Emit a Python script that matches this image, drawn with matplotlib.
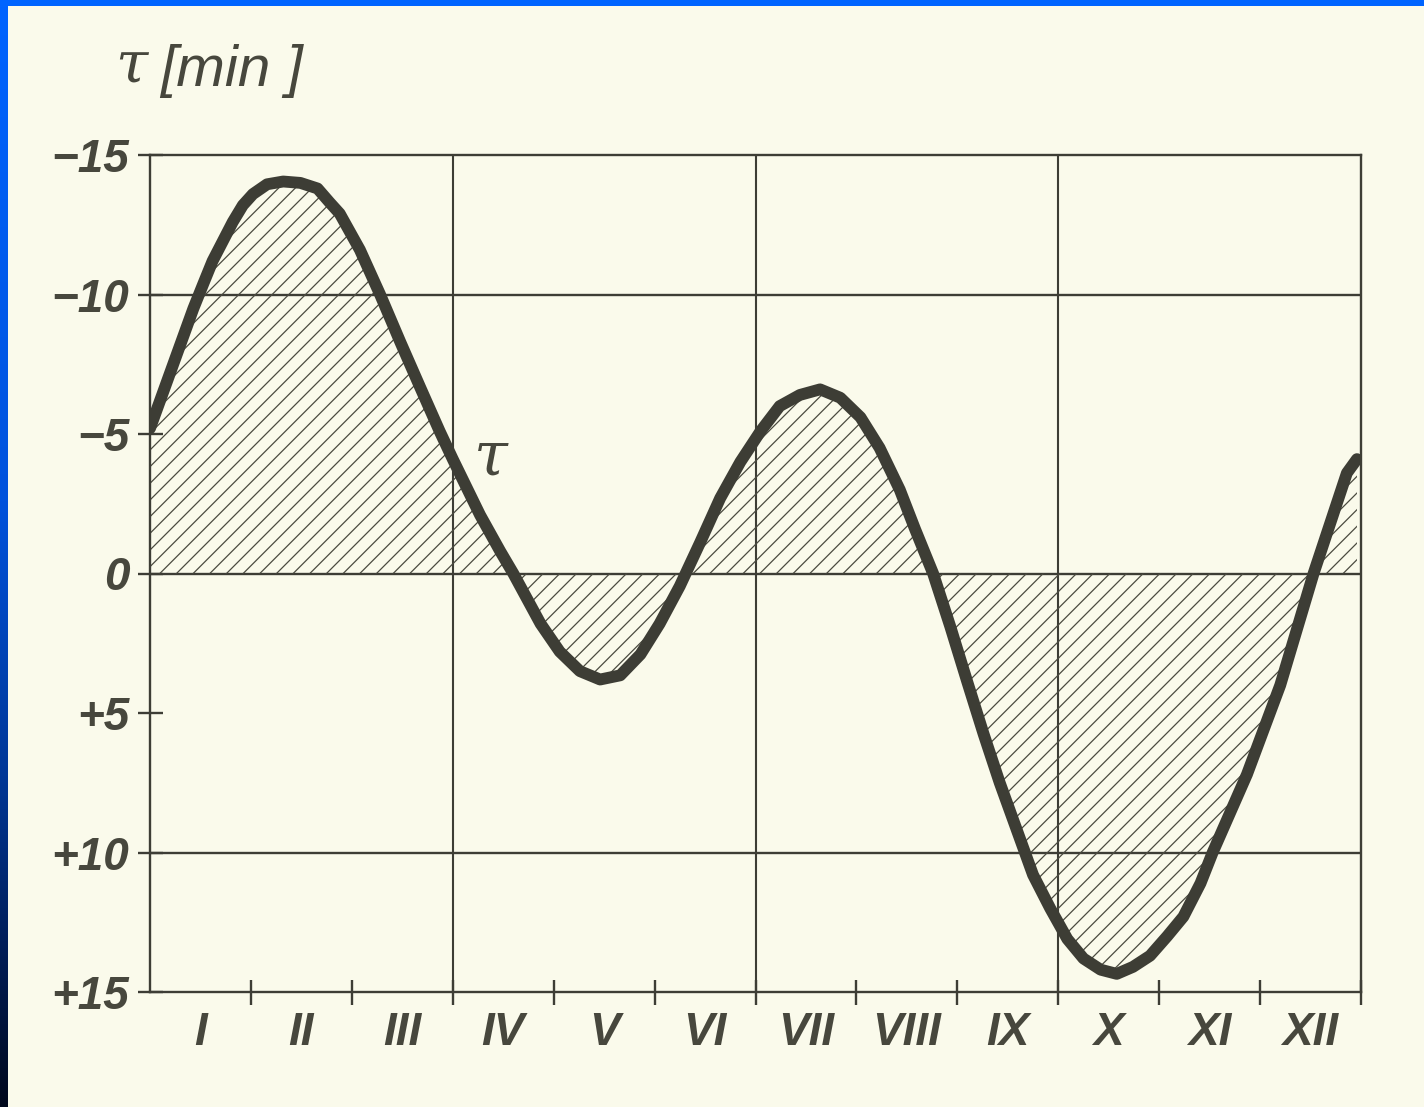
import numpy as np
import matplotlib
matplotlib.use("Agg")
import matplotlib.pyplot as plt
from matplotlib.patches import Rectangle

# ---- data ----
months = [0.00, 0.13, 0.23, 0.33, 0.43, 0.53, 0.62, 0.72, 0.82, 0.92, 1.02, 1.16,
          1.32, 1.49, 1.66, 1.78, 1.88, 2.08, 2.28, 2.48, 2.68, 2.87, 3.00, 3.27,
          3.47, 3.60, 3.87, 4.06, 4.26, 4.46, 4.66, 4.86, 5.05, 5.25, 5.45, 5.65,
          5.85, 6.05, 6.24, 6.44, 6.64, 6.84, 7.04, 7.23, 7.43, 7.58, 7.76, 7.93,
          8.10, 8.26, 8.42, 8.59, 8.75, 8.92, 9.09, 9.25, 9.42, 9.58, 9.74, 9.91,
          10.08, 10.24, 10.41, 10.53, 10.87, 11.20, 11.53, 11.86, 11.96]
tau = [-5.2, -6.5, -7.5, -8.5, -9.5, -10.4, -11.2, -11.9, -12.6, -13.2, -13.6, -13.95,
       -14.05, -14.0, -13.8, -13.3, -12.9, -11.6, -10.0, -8.3, -6.65, -5.1, -4.1, -2.1,
       -0.8, 0.0, 1.8, 2.8, 3.5, 3.8, 3.65, 2.9, 1.8, 0.45, -1.1, -2.7,
       -4.0, -5.1, -6.0, -6.4, -6.6, -6.3, -5.6, -4.5, -3.0, -1.6, 0.0, 1.9,
       3.9, 5.75, 7.5, 9.2, 10.8, 12.0, 13.1, 13.8, 14.2, 14.35, 14.1, 13.7,
       13.0, 12.3, 11.1, 10.0, 7.2, 4.0, 0.0, -3.6, -4.1]
month_labels = ["I", "II", "III", "IV", "V", "VI", "VII", "VIII", "IX", "X", "XI", "XII"]
y_ticks = [-15, -10, -5, 0, 5, 10, 15]
y_tick_labels = ["\u221215", "\u221210", "\u22125", "0", "+5", "+10", "+15"]
grid_y = [-10, 0, 10]
grid_x = [3, 6, 9]

bg = "#fafaeb"
ink = "#3d3d35"
txt = "#47473d"

plt.rcParams["hatch.linewidth"] = 0.9
plt.rcParams["hatch.color"] = "#4a4a40"

W, H = 1424, 1107
fig = plt.figure(figsize=(W / 100, H / 100), dpi=100)
fig.patch.set_facecolor(bg)

ax = fig.add_axes([150 / W, 115 / H, 1211 / W, 837 / H])
ax.set_facecolor(bg)
ax.set_xlim(0, 12)
ax.set_ylim(15, -15)

for g in grid_y:
    ax.axhline(g, color=ink, lw=1.7, zorder=1)
for g in grid_x:
    ax.axvline(g, color=ink, lw=1.5, zorder=1)
for s in ax.spines.values():
    s.set_color(ink)
    s.set_linewidth(1.7)

ax.fill_between(months, tau, 0, facecolor="none", edgecolor="#4a4a40",
                hatch="//", linewidth=0, interpolate=True, zorder=2)
ax.plot(months, tau, color=ink, lw=8.5, solid_joinstyle="round",
        solid_capstyle="round", zorder=3)

ax.text(3.38, -4.1, "\u03c4", fontsize=44, style="italic", color=txt,
        family="DejaVu Serif", ha="center", va="center", zorder=4)

# ticks
ax.set_yticks(y_ticks)
ax.set_yticklabels(y_tick_labels)
ax.set_xticks(range(1, 13))
ax.set_xticklabels([""] * 12)
ax.set_xticks(np.arange(0.5, 12, 1), minor=True)
ax.set_xticklabels(month_labels, minor=True)
ax.tick_params(axis="x", which="major", direction="inout", length=18, width=1.7,
               color=ink)
ax.tick_params(axis="x", which="minor", length=0, pad=14)
ax.tick_params(axis="y", direction="inout", length=18, width=1.7, color=ink, pad=6)
for lab in ax.get_xticklabels(minor=True) + ax.get_yticklabels():
    lab.set_family("Liberation Sans")
    lab.set_style("italic")
    lab.set_weight("bold")
    lab.set_color(txt)
    lab.set_fontsize(33)

# axis title: tau [min]
fig.text(115 / W, 1 - 82 / H, "\u03c4", fontsize=42, style="italic",
         family="DejaVu Serif", color=txt, ha="left", va="baseline")
fig.text(160 / W, 1 - 86 / H, "[min ]", fontsize=42, style="italic",
         family="Liberation Sans", color=txt, ha="left", va="baseline")

# blue frame (top and left)
fig.add_artist(Rectangle((0, 1 - 6 / H), 1, 6 / H, transform=fig.transFigure,
                         facecolor="#0064ff", edgecolor="none", zorder=10))
lax = fig.add_axes([0, 0, 8 / W, 1 - 6 / H])
stops_y = np.array([0.0, 0.45, 0.7, 0.85, 1.0])
stops_c = np.array([[0, 100, 255], [0, 82, 220], [0, 55, 150], [0, 30, 90], [0, 8, 28]]) / 255
yy = np.linspace(0, 1, 400)
grad = np.stack([np.interp(yy, stops_y, stops_c[:, i]) for i in range(3)], axis=-1)
lax.imshow(grad[:, None, :], aspect="auto", extent=[0, 1, 1, 0])
lax.set_axis_off()

fig.savefig("out.png", dpi=100, facecolor=bg)
